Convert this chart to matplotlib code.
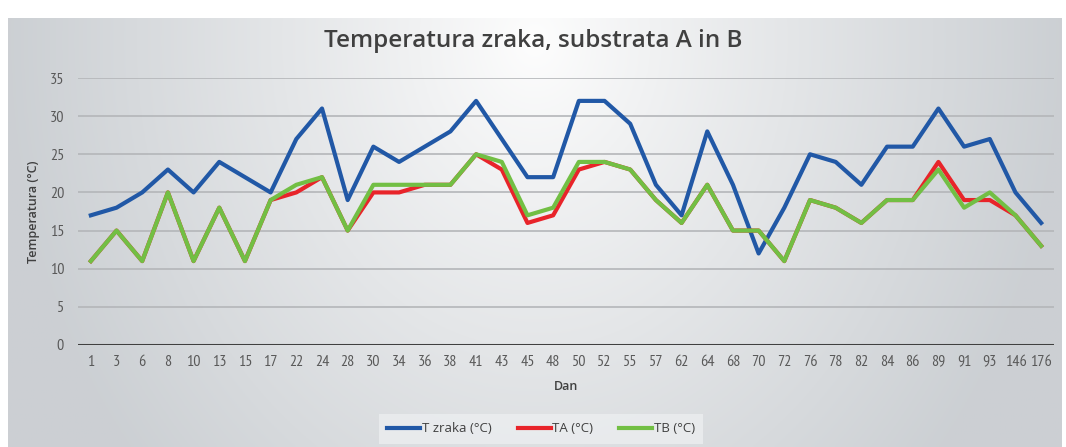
import numpy as np
import matplotlib.pyplot as plt

# days (categorical axis) and measured temperatures
dan = ['1', '3', '6', '8', '10', '13', '15', '17', '22', '24', '28', '30', '34', '36', '38',
       '41', '43', '45', '48', '50', '52', '55', '57', '62', '64', '68', '70', '72', '76',
       '78', '82', '84', '86', '89', '91', '93', '146', '176']
t_zraka = [17, 18, 20, 23, 20, 24, 22, 20, 27, 31, 19, 26, 24, 26, 28, 32, 27, 22, 22, 32,
           32, 29, 21, 17, 28, 21, 12, 18, 25, 24, 21, 26, 26, 31, 26, 27, 20, 16]
ta = [11, 15, 11, 20, 11, 18, 11, 19, 20, 22, 15, 20, 20, 21, 21, 25, 23, 16, 17, 23,
      24, 23, 19, 16, 21, 15, 15, 11, 19, 18, 16, 19, 19, 24, 19, 19, 17, 13]
tb = [11, 15, 11, 20, 11, 18, 11, 19, 21, 22, 15, 21, 21, 21, 21, 25, 24, 17, 18, 24,
      24, 23, 19, 16, 21, 15, 15, 11, 19, 18, 16, 19, 19, 23, 18, 20, 17, 13]

W, H = 1066, 447
fig = plt.figure(figsize=(W / 100, H / 100), dpi=100)
fig.patch.set_facecolor('white')
narrow = ['PT Sans Narrow', 'Archivo Narrow', 'DejaVu Sans']
sans = ['Open Sans', 'DejaVu Sans']

# gray radial gradient behind the chart
bg = fig.add_axes([8 / W, 0, 1054 / W, (H - 18) / H], zorder=0)
gx, gy = np.meshgrid(np.linspace(-1, 1, 400), np.linspace(0, 1, 200))
r = np.sqrt(gx ** 2 + ((gy - 0.05) / 1.5) ** 2)
g = np.clip(r, 0, 1) ** 0.9
c_in = np.array([0.995, 0.995, 0.995])
c_out = np.array([0.80, 0.815, 0.83])
img = c_in[None, None, :] * (1 - g[..., None]) + c_out[None, None, :] * g[..., None]
bg.imshow(img, aspect='auto', extent=[0, 1, 1, 0])
bg.set_axis_off()

ax = fig.add_axes([78 / W, (H - 345) / H, 976 / W, 267 / H], zorder=1)
ax.patch.set_alpha(0)
x = np.arange(len(dan))
ax.plot(x, t_zraka, color='#2158a6', lw=3, label='T zraka (°C)', zorder=3)
ax.plot(x, ta, color='#e8242a', lw=3, label='TA (°C)', zorder=4)
ax.plot(x, tb, color='#72bf44', lw=3, label='TB (°C)', zorder=5)

ax.set_xlim(-0.5, len(dan) - 0.5)
ax.set_ylim(0, 35)
ax.set_yticks(range(0, 36, 5))
ax.set_xticks(x)
ax.set_xticklabels(dan)
for s in ax.spines.values():
    s.set_visible(False)
ax.yaxis.grid(True, color='#b4b6b9', lw=1.2)
ax.set_axisbelow(True)
ax.axhline(0, color='#404040', lw=2.2, zorder=2)
ax.tick_params(length=0, labelsize=11.5, colors='#595959', pad=7)
for lab in ax.get_xticklabels() + ax.get_yticklabels():
    lab.set_family(narrow)
ax.tick_params(axis='y', pad=10)

ax.set_xlabel('Dan', fontsize=9, fontweight='semibold', color='#404040', family=sans, labelpad=8)
ax.set_ylabel('Temperatura (°C)', fontsize=9, fontweight='semibold', color='#404040',
              family=sans, labelpad=7)

fig.text(0.5, 1 - 41 / H, 'Temperatura zraka, substrata A in B', ha='center', va='center',
         fontsize=17.5, fontweight='semibold', color='#404040', family=sans)

leg = fig.legend(loc='center', bbox_to_anchor=(541 / W, 1 - 429 / H), ncol=3, frameon=True,
                 handlelength=2.5, handletextpad=0.1, columnspacing=2.0,
                 prop={'family': sans, 'size': 9.5})
leg.get_frame().set_facecolor('#eceef0')
leg.get_frame().set_edgecolor('none')
leg.get_frame().set_boxstyle('square', pad=0.25)
for t in leg.get_texts():
    t.set_color('#404040')

fig.savefig('out.png', dpi=100)
